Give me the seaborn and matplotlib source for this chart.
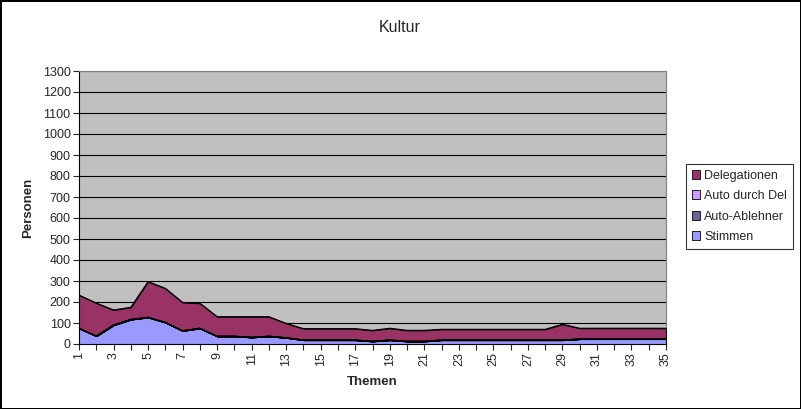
import matplotlib
matplotlib.use('Agg')
import matplotlib.pyplot as plt
import numpy as np
import pandas as pd
import seaborn as sns

themen = list(range(1, 36))
stimmen = [75, 38, 90, 117, 127, 103, 63, 75, 37, 37, 32, 37, 30, 19, 19, 19, 19, 13, 19,
           13, 13, 19, 19, 19, 19, 19, 19, 19, 19, 24, 24, 24, 24, 24, 24]
auto_ablehner = [0] * 35
auto_durch_del = [0] * 35
gesamt = [233, 195, 162, 175, 297, 265, 198, 194, 130, 130, 130, 130, 98, 73, 73, 73, 73, 65, 75,
          65, 65, 70, 70, 70, 70, 70, 70, 70, 94, 75, 75, 75, 75, 75, 75]
delegationen = [g - s for g, s in zip(gesamt, stimmen)]

series = ['Stimmen', 'Auto-Ablehner', 'Auto durch Del', 'Delegationen']
colors = ['#9999FF', '#666699', '#CC99FF', '#993366']

df = pd.DataFrame({'Thema': themen, 'Stimmen': stimmen, 'Auto-Ablehner': auto_ablehner,
                   'Auto durch Del': auto_durch_del, 'Delegationen': delegationen})

sns.set_style('white')
plt.rcParams['font.family'] = ['Liberation Sans', 'DejaVu Sans']

fig = plt.figure(figsize=(8.01, 4.09), dpi=100)
fig.patch.set_edgecolor('black')
fig.patch.set_linewidth(2)
ax = fig.add_axes([79 / 801, 65 / 409, 587 / 801, 273 / 409])
ax.set_facecolor('#C0C0C0')

polys = ax.stackplot(df.Thema, [df[s] for s in series], colors=colors, labels=series,
                     edgecolor='black', linewidth=0.8, zorder=3)

# outline of each layer
cum = df[series].cumsum(axis=1)
for s in series:
    sns.lineplot(x=df.Thema, y=cum[s], color='black', linewidth=0.8, ax=ax, zorder=4,
                 legend=False)

ax.set_xlim(1, 35)
ax.set_ylim(0, 1300)
ax.set_yticks(range(0, 1301, 100))
ax.set_xticks(themen)
ax.set_xticklabels([str(t) if t % 2 == 1 else '' for t in themen], rotation=90, fontsize=9)
ax.tick_params(axis='y', labelsize=9, length=4, width=0.8, direction='out', left=True, pad=2)
ax.tick_params(axis='x', length=4, width=0.8, direction='out', bottom=True, pad=2)
ax.grid(axis='y', color='black', linewidth=0.8, zorder=1)
ax.set_axisbelow(True)
for side in ['top', 'right']:
    ax.spines[side].set_color('#808080')
    ax.spines[side].set_linewidth(0.8)
for side in ['left', 'bottom']:
    ax.spines[side].set_color('black')
    ax.spines[side].set_linewidth(0.8)

ax.set_xlabel('Themen', fontsize=9.5, fontweight='bold', labelpad=7)
ax.set_ylabel('')
fig.text(28 / 801, 1 - 208 / 409, 'Personen', rotation=90, ha='center', va='center',
         fontsize=9.5, fontweight='bold')
fig.text(400 / 801, 1 - 27 / 409, 'Kultur', ha='center', va='center', fontsize=11.5)

handles, labels = ax.get_legend_handles_labels()
leg = fig.legend(handles[::-1], labels[::-1], loc='upper left',
                 bbox_to_anchor=(686 / 801, 1 - 164 / 409), fontsize=9, frameon=True,
                 fancybox=False, edgecolor='black', handlelength=0.7, handleheight=0.7,
                 handletextpad=0.3, labelspacing=0.68, borderpad=0.45, borderaxespad=0)
leg.get_frame().set_linewidth(0.8)
for h in leg.legend_handles:
    h.set_edgecolor('black')
    h.set_linewidth(0.6)

fig.savefig('out.png', dpi=100, edgecolor=fig.get_edgecolor())
